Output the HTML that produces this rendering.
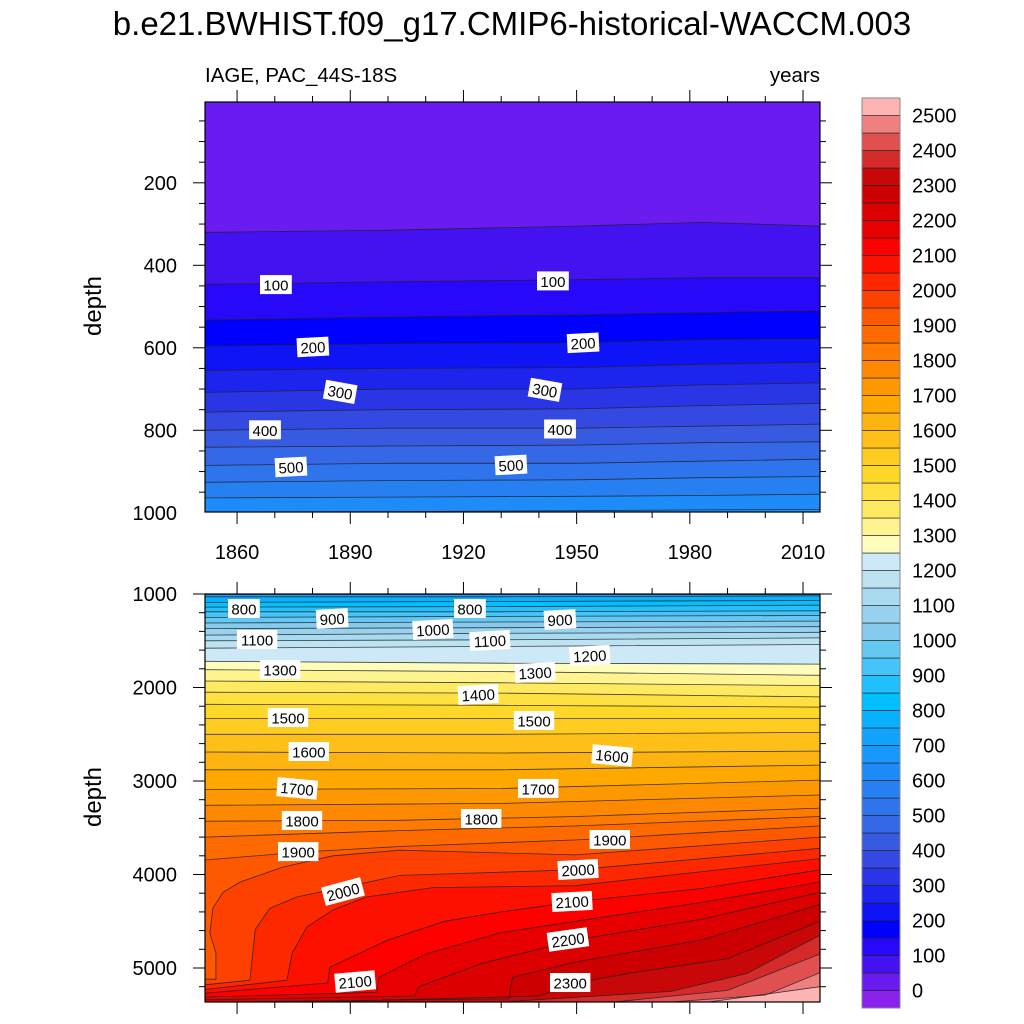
<!DOCTYPE html>
<html><head><meta charset="utf-8"><style>
html,body{margin:0;padding:0;background:#fff;}
svg{display:block;font-family:"Liberation Sans",sans-serif;}
</style></head><body>
<svg id="chart" width="1024" height="1024" viewBox="0 0 1024 1024" xmlns="http://www.w3.org/2000/svg">
<defs>
<clipPath id="clipTop"><rect x="205" y="102" width="615" height="410"/></clipPath>
<clipPath id="clipBot"><rect x="205" y="594" width="615" height="408"/></clipPath>
</defs>
<text x="512" y="35" text-anchor="middle" font-size="33">b.e21.BWHIST.f09_g17.CMIP6-historical-WACCM.003</text>
<text x="205" y="82" font-size="20.5">IAGE, PAC_44S-18S</text>
<text x="820" y="82" text-anchor="end" font-size="20.5">years</text>
<text transform="translate(101,306) rotate(-90)" text-anchor="middle" font-size="24">depth</text>
<text transform="translate(101,797) rotate(-90)" text-anchor="middle" font-size="24">depth</text>
<g id="topPanel"></g>
<g id="botPanel"></g>
<g id="colorbar"></g>
</svg>
<script>
// ---- data ----
const colors = ['#8a22ee','#6a1cf0','#4412f0','#2808f8','#0000ff','#0e14f6','#1c24ee','#2a36e6','#3448e2','#385ae0','#3468e6','#2e74ec','#2680f2','#1e8cf8','#1898fc','#10a4fe','#08b0fe','#00c0ff','#22c0fc','#44c4f8','#64c8f2','#86caee','#98d2ee','#a8daf0','#bde2f2','#cde9f7',
'#fffcbc','#fff490','#feea60','#fee040','#fed828','#fecc20','#fec018','#feb410','#fea800','#fe9800','#fe8800','#fe7a00','#fe6a00','#fe5800','#fe4000','#fe2800','#fe1000','#fe0000','#e80000','#dc0000','#cc0000','#c80808','#d42a2a','#e05050','#ee8080','#ffb4b4'];
const cbLabels = [0,100,200,300,400,500,600,700,800,900,1000,1100,1200,1300,1400,1500,1600,1700,1800,1900,2000,2100,2200,2300,2400,2500];
const xTicks = [1860,1890,1920,1950,1980,2010];
const topYTicks = [200,400,600,800,1000];
const botYTicks = [1000,2000,3000,4000,5000];
const topYears = [1851.5,1900,1950,1983,2014.5];
const topLevels = [50,100,150,200,250,300,350,400,450,500,550,600,650];
const topDepths = [
 [320,315,305,296,305],[446,440,435,430,430],[533,525,520,515,510],[596,590,588,580,578],
 [655,650,648,640,635],[708,700,700,690,685],[756,750,748,740,735],[800,795,795,790,785],
 [841,838,836,830,828],[885,880,880,875,870],[926,922,920,915,912],[964,962,960,958,955],[998,997,995,993,992]];
const botYears3 = [1851.5,1930,2014.5];
const botFlatLevels = [700,750,800,850,900,950,1000,1050,1100,1150,1200,1250,1300,1350,1400,1450,1500,1550,1600,1650,1700,1750];
const botFlatDepths = [
 [1005,1005,1005],[1030,1030,1020],[1090,1080,1070],[1140,1135,1120],[1190,1190,1180],[1250,1240,1230],
 [1310,1300,1290],[1370,1360,1350],[1440,1420,1410],[1500,1490,1470],[1580,1560,1540],[1720,1740,1750],
 [1810,1830,1870],[1930,1950,1980],[2050,2060,2100],[2180,2190,2210],[2330,2330,2330],[2500,2500,2480],
 [2690,2700,2680],[2880,2880,2830],[3090,3080,2990],[3260,3240,3150]];
const curveLevels = [1800,1850,1900,1950,2000,2050,2100,2150,2200,2250,2300,2350,2400,2450,2500];
const curvePoints = [
 [[1851.5,3430],[1903,3420],[1950,3380],[2014.5,3290]],
 [[1851.5,3600],[1903,3530],[1950,3480],[2014.5,3380]],
 [[1851.5,3845],[1877,3760],[1903,3700],[1950,3630],[2014.5,3480]],
 [[1851.5,5120],[1854.4,5120],[1854.4,4840],[1852.8,4630],[1853.6,4360],[1856.3,4190],[1860.8,4080],[1872.2,3920],[1885.4,3800],[1903.2,3740],[1949.6,3790],[2014.5,3600]],
 [[1851.5,5180],[1863.4,5130],[1864.8,4590],[1868.7,4360],[1875.9,4240],[1891.3,4110],[1903.2,4010],[1949.6,3950],[2014.5,3720]],
 [[1851.5,5230],[1873.2,5130],[1874.6,4840],[1878.5,4560],[1885.4,4380],[1894.4,4240],[1911.9,4140],[1949.6,4120],[2014.5,3830]],
 [[1851.5,5270],[1884,5160],[1884.6,4990],[1900,4700],[1915,4500],[1930,4400],[1949.6,4290],[1983,4150],[2014.5,3950]],
 [[1851.5,5310],[1897,5260],[1897.6,5100],[1910,4850],[1930,4620],[1949.6,4500],[1983,4300],[2014.5,4080]],
 [[1851.5,5340],[1907,5300],[1908.2,5200],[1925,4950],[1949.6,4700],[1983,4480],[2014.5,4190]],
 [[1851.5,5364],[1932,5330],[1933,5100],[1949.6,4936],[1983,4700],[2014.5,4320]],
 [[1880,5364],[1940,5300],[1949.6,5160],[1965,5050],[1990,4900],[2014.5,4500]],
 [[1930,5364],[1975,5250],[1995,5060],[2014.5,4650]],
 [[1960,5364],[1990,5240],[2014.5,4850]],
 [[1975,5364],[2000,5290],[2014.5,5050]],
 [[1985,5364],[2014.5,5200]]];
const topLabelText = ['100','100','200','200','300','300','400','400','500','500'];
const topLabelPos = [[1870.3,448],[1943.7,439],[1880.1,599],[1951.7,589],[1887.3,708],[1941.6,703],[1867.4,800],[1945.6,798],[1874.3,890],[1932.6,885]];
const topLabelAng = [0,0,-3,-3,10,10,0,0,-3,-3];
const botLabelText = ['800','800','900','900','1000','1100','1100','1200','1300','1300','1400','1500','1500','1600','1600','1700','1700','1800','1800','1900','1900','2000','2000','2100','2100','2200','2300'];
const botLabelPos = [[1861.8,1160],[1921.7,1160],[1885.2,1267],[1945.6,1278],[1911.9,1385],[1865.3,1492],[1927,1503],[1953.5,1663],[1871.4,1813],[1939,1845],[1923.9,2080],[1873.5,2326],[1938.7,2358],[1879,2690],[1959.4,2733],[1875.9,3085],[1939.8,3085],[1877.2,3428],[1924.7,3406],[1876.2,3760],[1958.8,3631],[1888.1,4187],[1950.4,3952],[1948.8,4294],[1891.3,5150],[1947.7,4701],[1948.3,5160]];
const botLabelAng = [0,0,-3,-3,-3,0,-3,-3,0,-3,-3,0,0,0,5,5,0,0,0,0,0,-15,-3,-3,-5,-8,0];

// ---- scales ----
const X = yr => 205 + (yr - 1851.5) * 3.773;
const YT = d => 100.3 + d * 0.4125;
const YB = d => 594 + (d - 1000) * 0.0935;
const colorFor = lev => colors[Math.round(lev / 50) + 1];
const NS = 'http://www.w3.org/2000/svg';
function mk(tag, attrs, parent){const e=document.createElementNS(NS,tag);for(const k in attrs)e.setAttribute(k,attrs[k]);parent.appendChild(e);return e;}

function drawPanel(g, clip, Y, yBottom, bgColor, contours, labels){
  const fillG = mk('g',{'clip-path':'url(#'+clip+')'},g);
  const bg = mk('rect',{x:205,y:(clip==='clipTop'?102:594),width:615,height:410,fill:bgColor},fillG);
  
  
  contours.forEach(c=>{
    const pts = c.pts.map(p=>X(p[0]).toFixed(1)+','+Y(p[1]).toFixed(1));
    const first=c.pts[0], last=c.pts[c.pts.length-1];
    const poly = pts.concat([X(last[0]).toFixed(1)+','+(yBottom+5),X(first[0]).toFixed(1)+','+(yBottom+5)]);
    const pg = mk('polygon',{points:poly.join(' '),fill:colorFor(c.level)},fillG);
    
    
  });
  contours.forEach(c=>{
    const pl = mk('polyline',{points:c.pts.map(p=>X(p[0]).toFixed(1)+','+Y(p[1]).toFixed(1)).join(' '),fill:'none',stroke:'#222','stroke-width':0.8,'stroke-opacity':0.85},fillG);
    
    
  });
  labels.forEach(l=>{
    const x=X(l.pos[0]), y=Y(l.pos[1]);
    const lg = mk('g',{transform:'translate('+x.toFixed(1)+','+y.toFixed(1)+') rotate('+l.ang+')'},fillG);
    
    
    const w = l.text.length*8.6+6;
    mk('rect',{x:-w/2,y:-10,width:w,height:19,fill:'#fff'},lg);
    const t = mk('text',{x:0,y:5.5,'text-anchor':'middle','font-size':15},lg);
    t.textContent = l.text;
  });
}

const topContours = topLevels.map((lv,i)=>({level:lv,pts:topYears.map((yr,j)=>[yr,topDepths[i][j]])}));
const topLabels = topLabelText.map((t,i)=>({text:t,pos:topLabelPos[i],ang:topLabelAng[i]}));
drawPanel(document.getElementById('topPanel'),'clipTop',YT,512,colorFor(0),topContours,topLabels);
const botContours = botFlatLevels.map((lv,i)=>({level:lv,pts:botYears3.map((yr,j)=>[yr,botFlatDepths[i][j]])}))
  .concat(curveLevels.map((lv,i)=>({level:lv,pts:curvePoints[i]})));
const botLabels = botLabelText.map((t,i)=>({text:t,pos:botLabelPos[i],ang:botLabelAng[i]}));
drawPanel(document.getElementById('botPanel'),'clipBot',YB,1002,colorFor(650),botContours,botLabels);

function axes(g, top, bottom, Y, yMajor, yMinorStart, yMinorEnd, yMinorStep, xLabels){
  const ax = mk('g',{},g);
  
  
  const fr = mk('rect',{x:205,y:top,width:615,height:bottom-top,fill:'none',stroke:'#000','stroke-width':1.2},ax);
  
  
  for(let yr=1860; yr<=2014; yr+=10){
    const x=X(yr), L = (yr%30===0)?12:6;
    mk('line',{x1:x,y1:bottom,x2:x,y2:bottom+L,stroke:'#000','stroke-width':1},ax);
    mk('line',{x1:x,y1:top,x2:x,y2:top-L,stroke:'#000','stroke-width':1},ax);
  }
  for(let d=yMinorStart; d<=yMinorEnd; d+=yMinorStep){
    const y=Y(d); if(y<top-0.5||y>bottom+0.5) continue;
    const L = yMajor.includes(d)?12:6;
    mk('line',{x1:205,y1:y,x2:205-L,y2:y,stroke:'#000','stroke-width':1},ax);
    mk('line',{x1:820,y1:y,x2:820+L,y2:y,stroke:'#000','stroke-width':1},ax);
  }
  yMajor.forEach(d=>{
    const t = mk('text',{x:177,y:Y(d)+7,'text-anchor':'end','font-size':20},ax);
    
    
    t.textContent=d;
  });
  if(xLabels){
    xTicks.forEach(yr=>{
      const t = mk('text',{x:X(yr),y:bottom+47,'text-anchor':'middle','font-size':20},ax);
      
      
      t.textContent=yr;
    });
  }
}
axes(document.getElementById('topPanel'),102,512,YT,topYTicks,50,1000,50,true);
axes(document.getElementById('botPanel'),594,1002,YB,botYTicks,1000,5200,200,false);

const cb = document.getElementById('colorbar');
const boxH = 17.5, cbTop = 98, nBox = colors.length;
colors.forEach((c,i)=>{
  const y = cbTop + (nBox-1-i)*boxH;
  const r = mk('rect',{x:862,y:y,width:38,height:boxH,fill:c,stroke:'#222','stroke-width':0.6},cb);
  
  
});
mk('rect',{x:862,y:cbTop,width:38,height:nBox*boxH,fill:'none',stroke:'#888','stroke-width':1},cb);
cbLabels.forEach(v=>{
  const k = v/50 + 1;
  const y = cbTop + (nBox - k)*boxH;
  const t = mk('text',{x:912,y:y+7,'font-size':20},cb);
  
  
  t.textContent = v;
});
</script>
</body></html>
